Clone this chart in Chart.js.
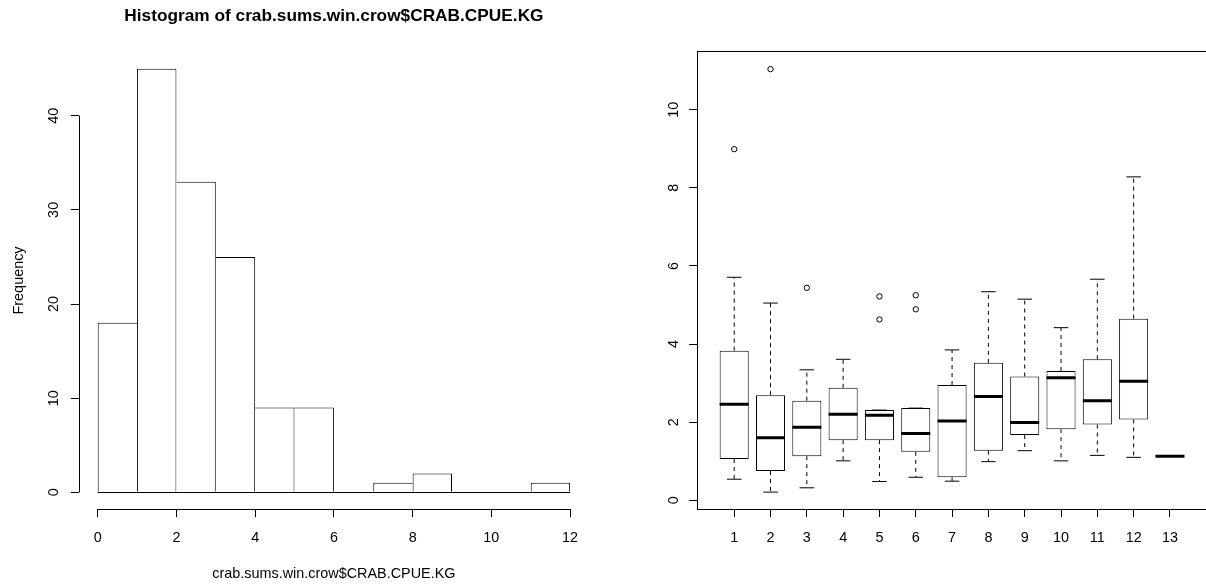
<!DOCTYPE html>
<html><head><meta charset="utf-8">
<script src="https://cdn.jsdelivr.net/npm/chart.js@4.4.0/dist/chart.umd.min.js"></script>
<style>
html,body{margin:0;padding:0;background:#fff;overflow:hidden;width:1206px;height:588px}
#left{position:absolute;left:0;top:0;width:640px;height:588px}
#rightWrap{position:absolute;left:640px;top:0;width:566px;height:588px;overflow:hidden}
#right{position:absolute;left:0;top:0;width:572px;height:588px}
</style></head><body>
<canvas id="left" width="640" height="588"></canvas>
<div id="rightWrap"><canvas id="right" width="572" height="588"></canvas></div>
<script>
// ---------- Histogram data ----------
const histBreaks = [0,1,2,3,4,5,6,7,8,9,10,11,12];
const histCounts = [18,45,33,25,9,9,0,1,2,0,0,1];
const histXTicks = [0,2,4,6,8,10,12];
const histYTicks = [0,10,20,30,40];
const histTitle = 'Histogram of crab.sums.win.crow$CRAB.CPUE.KG';
const histXLabel = 'crab.sums.win.crow$CRAB.CPUE.KG';
const histYLabel = 'Frequency';

// ---------- Boxplot data ----------
const boxGroups = [1,2,3,4,5,6,7,8,9,10,11,12,13];
const boxLower  = [0.54,0.21,0.32,1.01,0.48,0.59,0.49,0.99,1.27,1.01,1.15,1.10,1.13];
const boxQ1     = [1.06,0.75,1.13,1.54,1.54,1.24,0.59,1.27,1.67,1.82,1.94,2.07,1.13];
const boxMedian = [2.46,1.60,1.87,2.20,2.18,1.71,2.03,2.66,1.99,3.14,2.55,3.05,1.13];
const boxQ3     = [3.83,2.69,2.55,2.88,2.31,2.36,2.95,3.52,3.17,3.31,3.61,4.65,1.13];
const boxUpper  = [5.71,5.05,3.34,3.61,2.31,2.36,3.85,5.34,5.15,4.42,5.66,8.28,1.13];
const outlierGroups = [1,2,3,5,5,6,6];
const outlierValues = [8.99,11.04,5.44,4.63,5.22,4.89,5.25];
const boxYTicks = [0,2,4,6,8,10];

// ---------- common ----------
const FONT = "'Liberation Sans', Arial, Helvetica, sans-serif";
Chart.defaults.font.family = FONT;
Chart.defaults.font.size = 14.4;
Chart.defaults.color = '#000';

const setTicks = vals => scale => { scale.ticks = vals.map(v => ({value: v})); };
const crisp = v => Math.round(v) + 0.5;

// R-style axes for histogram: lines span only the tick range
const rAxesHist = {
  id: 'rAxesHist',
  afterDraw(chart) {
    const {ctx, scales: {x, y}} = chart;
    ctx.save();
    ctx.strokeStyle = '#000';
    ctx.lineWidth = 1;
    ctx.beginPath();
    const xy = crisp(x.top);
    ctx.moveTo(x.getPixelForValue(histXTicks[0]), xy);
    ctx.lineTo(x.getPixelForValue(histXTicks[histXTicks.length-1]), xy);
    const yx = crisp(y.right);
    ctx.moveTo(yx, y.getPixelForValue(histYTicks[0]));
    ctx.lineTo(yx, y.getPixelForValue(histYTicks[histYTicks.length-1]));
    // baseline of the histogram rectangles (zero-height bins too)
    const by = crisp(y.getPixelForValue(0));
    ctx.moveTo(x.getPixelForValue(histBreaks[0]), by);
    ctx.lineTo(x.getPixelForValue(histBreaks[histBreaks.length-1]), by);
    ctx.stroke();
    ctx.restore();
  }
};

const frameBox = {
  id: 'frameBox',
  afterDraw(chart) {
    const {ctx, chartArea: a} = chart;
    ctx.save();
    ctx.strokeStyle = '#000';
    ctx.lineWidth = 1;
    const l = crisp(a.left), t = crisp(a.top), r = crisp(a.right), b = crisp(a.bottom);
    ctx.strokeRect(l, t, r - l, b - t);
    ctx.restore();
  }
};

// ---------- Histogram ----------
const histData = histCounts.map((c, i) => ({x: (histBreaks[i] + histBreaks[i+1]) / 2, y: c}));
function histBorder(ctx) {
  const i = ctx.dataIndex, c = histCounts[i];
  const n = histCounts.length;
  const left = (i === 0 || c > histCounts[i-1]) ? 1 : 0;
  const right = (i === n - 1 || c >= histCounts[i+1]) ? 1 : 0;
  return {top: 1, bottom: 0, left: left, right: right};
}

new Chart(document.getElementById('left'), {
  type: 'bar',
  data: {
    datasets: [{
      data: histData,
      backgroundColor: '#fff',
      borderColor: '#000',
      borderWidth: histBorder,
      borderSkipped: false,
      inflateAmount: 0,
      barPercentage: 1,
      categoryPercentage: 1
    }]
  },
  options: {
    responsive: false,
    animation: false,
    devicePixelRatio: 1,
    layout: {padding: {left: 0, right: 51, top: 0, bottom: 0}},
    plugins: {
      legend: {display: false},
      tooltip: {enabled: false},
      title: {
        display: true,
        text: histTitle,
        fullSize: false,
        font: {size: 17.28, weight: 'bold', family: FONT},
        color: '#000',
        padding: {top: 5.9, bottom: 25.1}
      }
    },
    scales: {
      x: {
        type: 'linear',
        min: -0.48, max: 12.48,
        offset: false,
        afterBuildTicks: setTicks(histXTicks),
        afterFit: s => { s.height = 78.8; },
        grid: {display: true, drawOnChartArea: false, drawTicks: true, tickLength: 8, color: '#000', offset: false},
        border: {display: false},
        ticks: {autoSkip: false, maxRotation: 0, padding: 12.2, callback: v => String(v), color: '#000'},
        title: {display: true, text: histXLabel, color: '#000', padding: {top: 0, bottom: 5.4}}
      },
      y: {
        type: 'linear',
        min: -1.8, max: 46.8,
        afterBuildTicks: setTicks(histYTicks),
        afterFit: s => { s.width = 78.8; },
        grid: {display: true, drawOnChartArea: false, drawTicks: true, tickLength: 8, color: '#000'},
        border: {display: false},
        ticks: {autoSkip: false, minRotation: 90, maxRotation: 90, crossAlign: 'center', padding: 8.8, callback: v => String(v), color: '#000'},
        title: {display: true, text: histYLabel, color: '#000', padding: {top: 10.4, bottom: 0}}
      }
    }
  },
  plugins: [rAxesHist]
});

// ---------- Boxplot ----------
const CAP = 0.2, HALF = 0.4;
const boxData = boxGroups.map((g, i) => ({x: g, y: [boxQ1[i], boxQ3[i]]}));
const whiskerData = [], capData = [], medianData = [];
boxGroups.forEach((g, i) => {
  whiskerData.push({x: g, y: boxQ3[i]}, {x: g, y: boxUpper[i]}, {x: g, y: null},
                   {x: g, y: boxQ1[i]}, {x: g, y: boxLower[i]}, {x: g, y: null});
  capData.push({x: g - CAP, y: boxUpper[i]}, {x: g + CAP, y: boxUpper[i]}, {x: g, y: null},
               {x: g - CAP, y: boxLower[i]}, {x: g + CAP, y: boxLower[i]}, {x: g, y: null});
  medianData.push({x: g - HALF, y: boxMedian[i]}, {x: g + HALF, y: boxMedian[i]}, {x: g, y: null});
});
const outlierData = outlierGroups.map((g, i) => ({x: g, y: outlierValues[i]}));

const lineBase = {type: 'line', borderColor: '#000', pointRadius: 0, fill: false, spanGaps: false, tension: 0};

new Chart(document.getElementById('right'), {
  type: 'bar',
  data: {
    datasets: [
      Object.assign({}, lineBase, {data: medianData, borderWidth: 3, borderCapStyle: 'butt', order: 0}),
      {type: 'line', data: outlierData, showLine: false, pointRadius: 2.7, pointBorderWidth: 1,
       pointBackgroundColor: 'rgba(0,0,0,0)', pointBorderColor: '#000', order: 1},
      Object.assign({}, lineBase, {data: capData, borderWidth: 1, order: 2}),
      Object.assign({}, lineBase, {data: whiskerData, borderWidth: 1, borderDash: [4, 4], order: 3}),
      {type: 'bar', data: boxData, backgroundColor: '#fff', borderColor: '#000', borderWidth: 1,
       borderSkipped: false, inflateAmount: 0, barPercentage: 0.8, categoryPercentage: 1, order: 4}
    ]
  },
  options: {
    responsive: false,
    animation: false,
    devicePixelRatio: 1,
    layout: {padding: {left: 0, right: 3.6, top: 51.35, bottom: 0}},
    plugins: {legend: {display: false}, tooltip: {enabled: false}, title: {display: false}},
    scales: {
      x: {
        type: 'linear',
        min: -0.02, max: 14.02,
        offset: false,
        afterBuildTicks: setTicks(boxGroups),
        afterFit: s => { s.height = 78.95; },
        grid: {display: true, drawOnChartArea: false, drawTicks: true, tickLength: 8, color: '#000', offset: false},
        border: {display: false},
        ticks: {autoSkip: false, maxRotation: 0, padding: 12.3, callback: v => String(v), color: '#000'}
      },
      y: {
        type: 'linear',
        min: -0.224, max: 11.494,
        afterBuildTicks: setTicks(boxYTicks),
        afterFit: s => { s.width = 57.15; },
        grid: {display: true, drawOnChartArea: false, drawTicks: true, tickLength: 8, color: '#000'},
        border: {display: false},
        ticks: {autoSkip: false, minRotation: 90, maxRotation: 90, crossAlign: 'center', padding: 7.4, callback: v => String(v), color: '#000'}
      }
    }
  },
  plugins: [frameBox]
});
</script>
</body></html>
